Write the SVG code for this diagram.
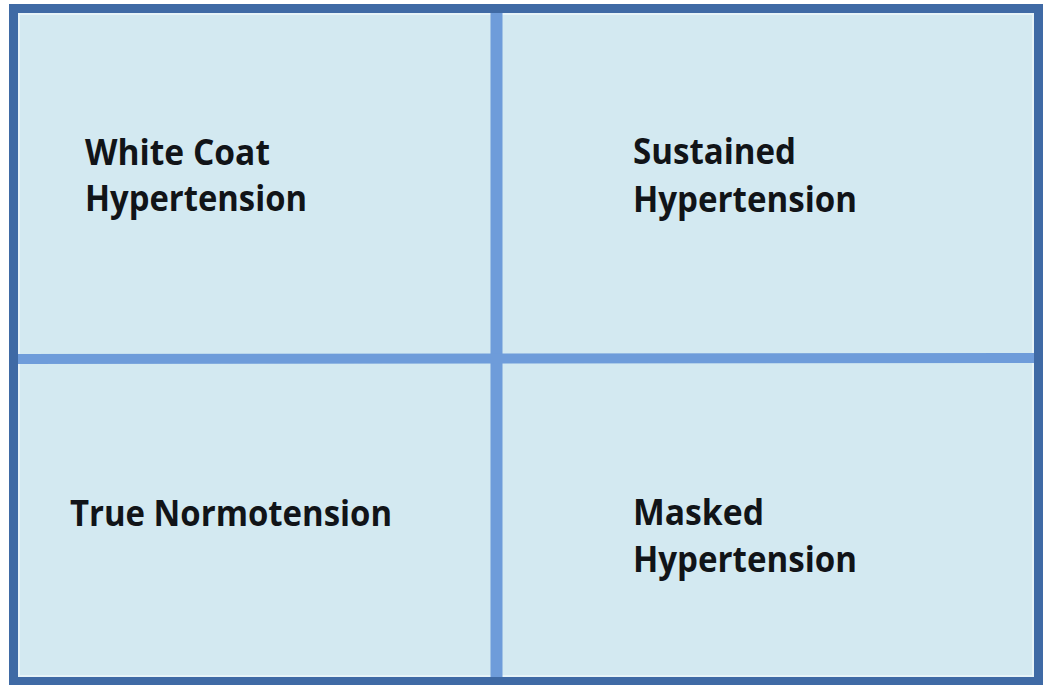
<svg xmlns="http://www.w3.org/2000/svg" width="1043" height="685" viewBox="0 0 1043 685">
  <style>
    .frame { fill: #d3e9f1; stroke: #3f6aa5; stroke-width: 9; }
    .inner { fill: none; stroke: #e6f3f8; stroke-width: 2; }
    .divider { stroke: #6e9cda; fill: none; }
    .label { font-family: "Open Sans", "Liberation Sans", sans-serif; font-weight: 700; font-size: 36px; fill: #111418; }
  </style>
  <rect x="0" y="0" width="1043" height="685" fill="#ffffff"/>
  <!-- outer frame -->
  <rect class="frame" x="13.5" y="8.5" width="1025" height="672.5"/>
  <rect class="inner" x="19" y="14" width="1014" height="662"/>
  <!-- quadrant dividers -->
  <g id="connectors">
    <line class="divider" x1="496.5" y1="13" x2="496.5" y2="677" stroke-width="12"/>
    <line class="divider" x1="18" y1="359" x2="1034" y2="358" stroke-width="10"/>
  </g>
  <g id="white-coat">
    <text class="label" x="85" y="165" textLength="185" lengthAdjust="spacingAndGlyphs">White Coat</text>
    <text class="label" x="85" y="211" textLength="222" lengthAdjust="spacingAndGlyphs">Hypertension</text>
  </g>
  <g id="sustained">
    <text class="label" x="633" y="164" textLength="163" lengthAdjust="spacingAndGlyphs">Sustained</text>
    <text class="label" x="633" y="212" textLength="224" lengthAdjust="spacingAndGlyphs">Hypertension</text>
  </g>
  <g id="true-normotension">
    <text class="label" x="70" y="526" textLength="322" lengthAdjust="spacingAndGlyphs">True Normotension</text>
  </g>
  <g id="masked">
    <text class="label" x="633" y="525" textLength="131" lengthAdjust="spacingAndGlyphs">Masked</text>
    <text class="label" x="633" y="572" textLength="224" lengthAdjust="spacingAndGlyphs">Hypertension</text>
  </g>
</svg>
